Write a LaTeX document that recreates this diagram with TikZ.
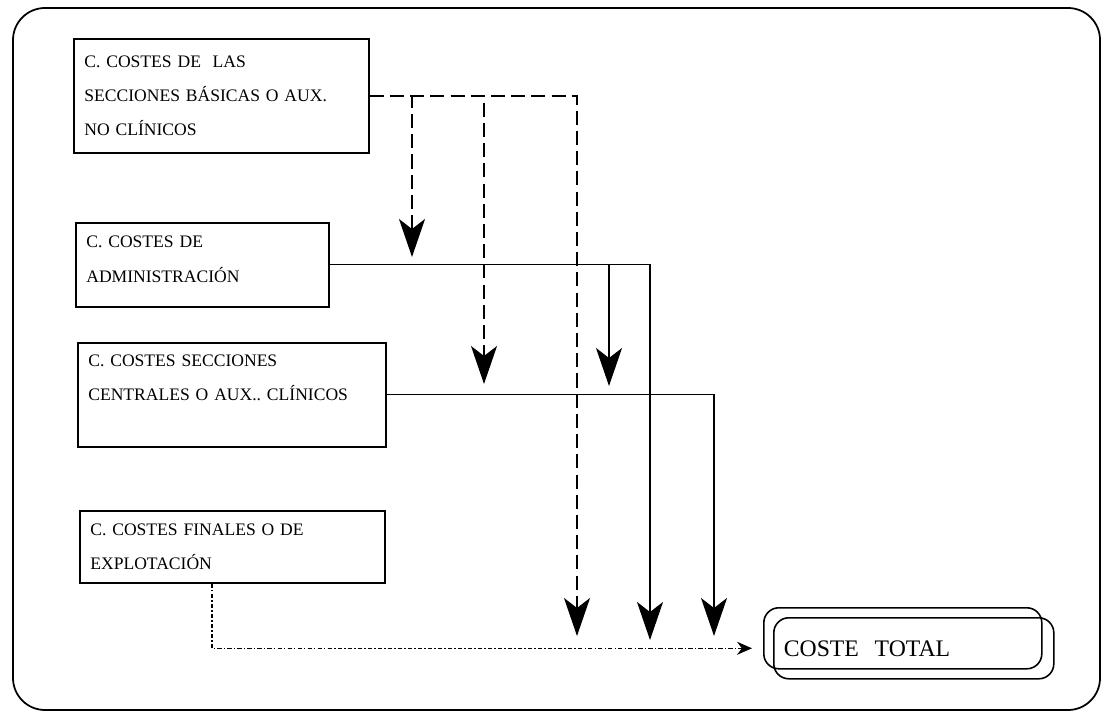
\documentclass[tikz,border=0pt]{standalone}
\usepackage{fontspec}
\setmainfont{Liberation Serif}
\usetikzlibrary{arrows.meta}
\frenchspacing

\begin{document}
\begin{tikzpicture}[>={Stealth[length=7.6mm,width=5.2mm,inset=2mm]},
    costbox/.style={draw,line width=0.9pt,anchor=north west,align=left,inner xsep=6pt,font=\fontsize{10}{19.5}\selectfont},
    totalbox/.style={draw,line width=0.9pt,anchor=north west,rounded corners=0.3cm,minimum height=1.22cm},
    dashline/.style={line width=0.9pt,dash pattern=on 8pt off 3.5pt},
    flowline/.style={line width=0.7pt},
    dotline/.style={line width=0.7pt,dash pattern=on 2.5pt off 1.2pt on 0.8pt off 1.2pt}]
    \useasboundingbox (0,0) rectangle (22.12,-14.3);
    \draw[line width=1pt,rounded corners=0.64cm] (0.26,-0.16) rectangle (22.0,-14.2);

    % cost centres
    \node[costbox,minimum height=2.28cm,text width=5.48cm] (basicas) at (1.46,-0.76) {C. COSTES DE\ \ LAS\\SECCIONES BÁSICAS O AUX.\\NO CLÍNICOS};
    \node[costbox,minimum height=1.68cm,text width=4.64cm] (admin) at (1.50,-4.44) {C. COSTES DE\\ADMINISTRACIÓN\\[-13pt]\mbox{}};
    \node[costbox,minimum height=2.08cm,text width=5.74cm] (centrales) at (1.54,-6.84) {C. COSTES SECCIONES\\CENTRALES O AUX.. CLÍNICOS\\\mbox{}};
    \node[costbox,minimum height=1.44cm,text width=5.68cm] (finales) at (1.58,-10.20) {C. COSTES FINALES O DE\\EXPLOTACIÓN};

    \node[totalbox,minimum width=5.56cm] (totalb) at (15.26,-12.14) {};
    \node[totalbox,minimum width=5.6cm,align=left,text width=5.2cm,inner xsep=0.2cm,font=\fontsize{13.5}{16}\selectfont] (total) at (15.46,-12.34) {COSTE\ \ TOTAL};

    % arrow ends
    \coordinate (a1) at (8.24,-5.14);
    \coordinate (a2) at (9.68,-7.68);
    \coordinate (a3) at (11.54,-12.72);
    \coordinate (b1) at (12.18,-7.72);
    \coordinate (b2) at (13.00,-12.80);
    \coordinate (c1) at (14.28,-12.72);

    \draw[dashline,->] (basicas.east) -| (a1);
    \draw[dashline,->] (basicas.east) -| (a2);
    \draw[dashline,->] (basicas.east) -| (a3);
    \draw[flowline,->] (admin.east) -| (b1);
    \draw[flowline,->] (admin.east) -| (b2);
    \draw[flowline,->] (centrales.east) -| (c1);
    \draw[dotline,-{Stealth[length=3mm,width=2.6mm]},shorten >=0.42cm] ([xshift=2.66cm]finales.south west) |- (total.west);
\end{tikzpicture}
\end{document}
